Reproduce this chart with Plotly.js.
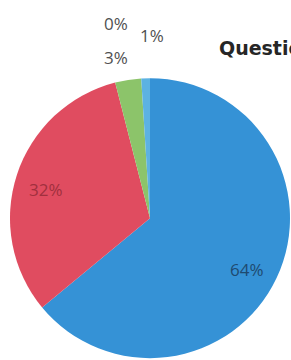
<!DOCTYPE html>
<html>
<head>
<meta charset="utf-8">
<script src="https://cdn.plot.ly/plotly-3.0.1.min.js"></script>
<style>html,body{margin:0;padding:0;background:#fff;overflow:hidden}#chart{width:291px;height:360px}</style>
</head>
<body>
<div id="chart"></div>
<script>
var labels = ['A', 'B', 'C', 'D', 'E'];
var values = [64, 32, 3, 0, 1];
var titleText = 'Question 1';

// style: slice colours and label placement (pixels from top-left) / label colours
var colors = ['#3592d6', '#e04c60', '#8cc46a', '#8064a2', '#5cb2e2'];
var labelPosPx = [[247, 269], [46, 189], [116, 57], [116, 23], [152, 36]];
var labelColors = ['#1f4a70', '#a0303e', '#505050', '#505050', '#505050'];

var W = 291, H = 360;
var total = values.reduce(function (a, b) { return a + b; }, 0);

var trace = {
  type: 'pie',
  labels: labels,
  values: values,
  sort: false,
  direction: 'clockwise',
  rotation: 0,
  marker: {colors: colors, line: {width: 0}},
  textinfo: 'none',
  showlegend: false,
  hoverinfo: 'none',
  domain: {x: [10/W, 290/W], y: [0.005, 0.783]}
};

var annotations = values.map(function (v, i) {
  return {
    text: Math.round(v / total * 100) + '%',
    xref: 'paper', yref: 'paper',
    x: labelPosPx[i][0] / W, y: 1 - labelPosPx[i][1] / H,
    xanchor: 'center', yanchor: 'middle',
    showarrow: false,
    font: {family: 'Open Sans', size: 17, color: labelColors[i]}
  };
});

var layout = {
  width: W, height: H,
  margin: {l: 0, r: 0, t: 0, b: 0},
  paper_bgcolor: '#ffffff',
  showlegend: false,
  annotations: annotations,
  title: {
    text: '<b>' + titleText + '</b>',
    x: 219/W, xanchor: 'left', xref: 'paper',
    y: 1 - 48/H, yanchor: 'middle', yref: 'container',
    font: {family: 'DejaVu Sans', size: 19, color: '#262626'}
  }
};

Plotly.newPlot('chart', [trace], layout, {displayModeBar: false, staticPlot: true});
</script>
</body>
</html>
